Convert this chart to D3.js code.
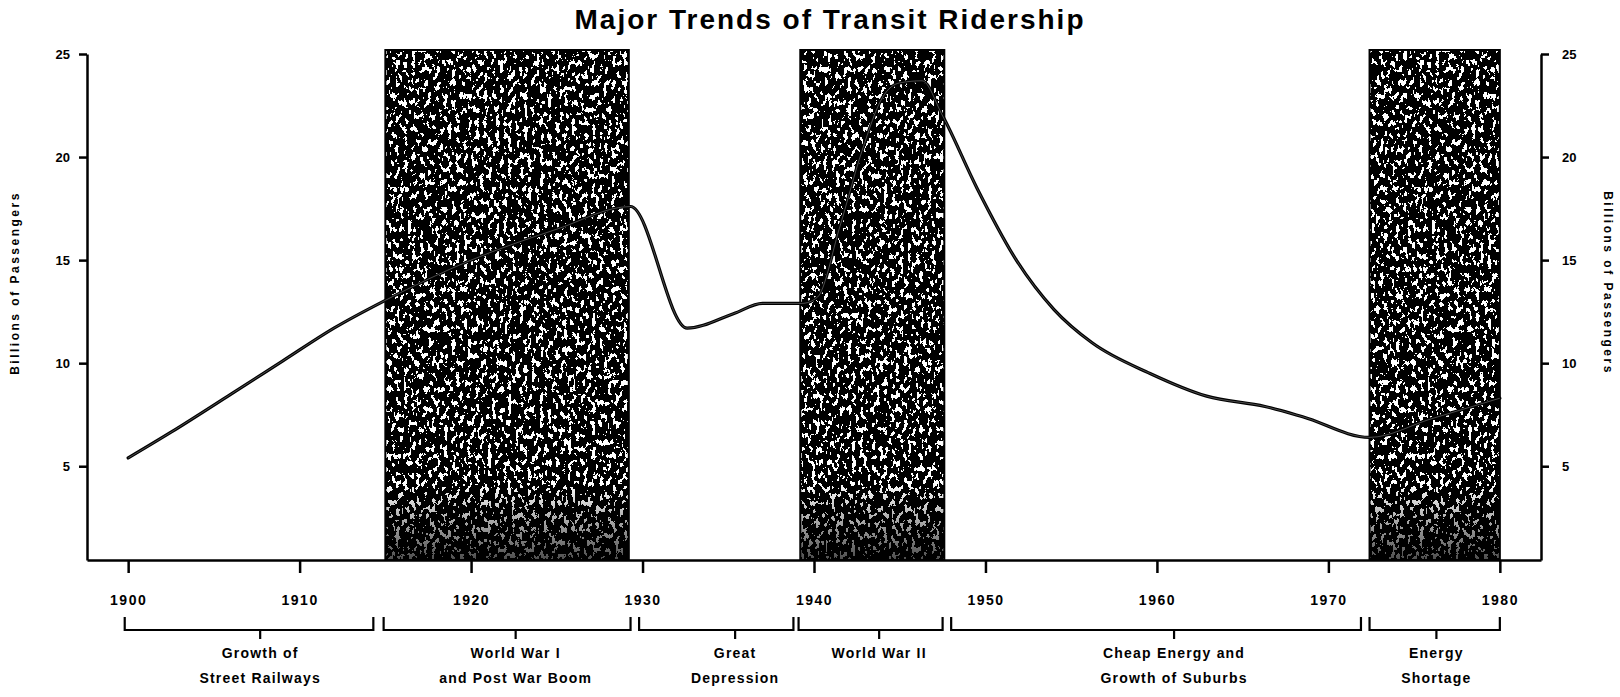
<!DOCTYPE html>
<html>
<head>
<meta charset="utf-8">
<script src="https://cdn.jsdelivr.net/npm/d3@7"></script>
<style>
  html, body { margin: 0; padding: 0; background: #fff; }
  svg { display: block; }
  text { font-family: "Liberation Sans", Arial, sans-serif; font-weight: bold; fill: #000; }
</style>
</head>
<body>
<svg id="chart" width="1620" height="697"></svg>
<script>
// ---------------- data ----------------
const title = "Major Trends of Transit Ridership";
const yTitle = "Billions of Passengers";
const years = [1900, 1902.5, 1906, 1909, 1912, 1915, 1920, 1925, 1929.3, 1932.6, 1935.3, 1937, 1939.3,
               1940.2, 1941.5, 1942.8, 1944, 1945, 1946.3, 1947.5, 1949.5, 1951.8, 1954, 1956.2,
               1959.6, 1962.9, 1966.3, 1968.5, 1972.4, 1976, 1980];
const riders = [5.4, 6.65, 8.5, 10.1, 11.7, 13.05, 15.0, 16.5, 17.6, 11.7, 12.4, 12.9, 12.9,
                13.2, 16.6, 20.3, 22.9, 23.6, 23.7, 22.0, 18.5, 15.0, 12.6, 11.0,
                9.5, 8.4, 7.9, 7.4, 6.4, 7.3, 8.3];
const xTicks = [1900, 1910, 1920, 1930, 1940, 1950, 1960, 1970, 1980];
const yTicks = [5, 10, 15, 20, 25];
const bandStart = [1915, 1939.2, 1972.4];
const bandEnd = [1929.2, 1947.6, 1980];
const periodStart = [1899.8, 1914.9, 1929.8, 1939.1, 1948.0, 1972.4];
const periodEnd = [1914.3, 1929.3, 1938.8, 1947.5, 1971.9, 1980];
const periodCenter = [1907.7, 1922.6, 1935.4, 1943.8, 1961.0, 1976.3];
const periodLine1 = ["Growth of", "World War I", "Great", "World War II", "Cheap Energy and", "Energy"];
const periodLine2 = ["Street Railways", "and Post War Boom", "Depression", "", "Growth of Suburbs", "Shortage"];

// ---------------- layout ----------------
const svg = d3.select("#chart");
const x = d3.scaleLinear().domain([1897.6, 1982.4]).range([87, 1541]);
const y = d3.scaleLinear().domain([0.45, 25]).range([560, 54]);
const bandTop = 50;

const defs = svg.append("defs");
// grain filter for the shaded periods
const f = defs.append("filter").attr("id", "grain")
  .attr("x", 0).attr("y", 0).attr("width", 1).attr("height", 1);
f.append("feTurbulence").attr("type", "fractalNoise")
  .attr("baseFrequency", "0.25 0.15").attr("numOctaves", 3).attr("seed", 11).attr("result", "noise");
f.append("feColorMatrix").attr("in", "noise").attr("type", "matrix")
  .attr("values", "0 0 0 0 1  0 0 0 0 1  0 0 0 0 1  1.6 0 0 0 -0.3").attr("result", "wn");
const ct = f.append("feComponentTransfer").attr("in", "wn").attr("result", "speck");
ct.append("feFuncA").attr("type", "discrete").attr("tableValues", "0 0 0 0 0 0 0 0 0 0 0 0 0 1 1 1 1 1 1 1");
const mg = f.append("feMerge").attr("result", "merged");
mg.append("feMergeNode").attr("in", "SourceGraphic");
mg.append("feMergeNode").attr("in", "speck");
f.append("feComposite").attr("in", "merged").attr("in2", "SourceGraphic").attr("operator", "in");

// darker base of the bands
const grad = defs.append("linearGradient").attr("id", "baseDark")
  .attr("x1", 0).attr("y1", 0).attr("x2", 0).attr("y2", 1);
grad.append("stop").attr("offset", "0.85").attr("stop-color", "#000").attr("stop-opacity", 0);
grad.append("stop").attr("offset", "1").attr("stop-color", "#000").attr("stop-opacity", 0.7);

// bands
const bands = bandStart.map((s, i) => ({ s, e: bandEnd[i] }));
const bandRect = sel => sel
  .attr("x", d => x(d.s)).attr("width", d => x(d.e) - x(d.s))
  .attr("y", bandTop).attr("height", y(0.45) - bandTop);
svg.append("g").selectAll("rect").data(bands).join("rect").call(bandRect)
  .attr("fill", "#000").attr("filter", "url(#grain)");
svg.append("g").selectAll("rect").data(bands).join("rect").call(bandRect)
  .attr("fill", "url(#baseDark)");
svg.append("g").selectAll("rect").data(bands).join("rect").call(bandRect)
  .attr("fill", "none").attr("stroke", "#000").attr("stroke-width", 2);

// axes
const axisStyle = g => {
  g.selectAll("path.domain").attr("stroke", "#000").attr("stroke-width", 2.5);
  g.selectAll(".tick line").attr("stroke", "#000").attr("stroke-width", 2.5);
  g.selectAll(".tick text").style("font-family", "'Liberation Sans', Arial, sans-serif")
    .style("font-weight", "bold").style("font-size", "13px").attr("fill", "#000");
};
svg.append("g").attr("transform", "translate(87,0)")
  .call(d3.axisLeft(y).tickValues(yTicks).tickSizeInner(8).tickSizeOuter(0).tickPadding(9))
  .call(axisStyle);
svg.append("g").attr("transform", "translate(1541,0)")
  .call(d3.axisRight(y).tickValues(yTicks).tickSizeInner(8).tickSizeOuter(0).tickPadding(13))
  .call(axisStyle);
svg.append("g").attr("transform", "translate(0,560)")
  .call(d3.axisBottom(x).tickValues(xTicks).tickFormat(d3.format("d")).tickSizeInner(13).tickSizeOuter(0).tickPadding(22))
  .call(axisStyle)
  .call(g => g.selectAll(".tick text").style("font-size", "14px").style("letter-spacing", "1.5px"));

// ridership line
const line = d3.line().x((d, i) => x(years[i])).y(d => y(d)).curve(d3.curveMonotoneX);
svg.append("path").datum(riders).attr("d", line)
  .attr("fill", "none").attr("stroke", "#000").attr("stroke-width", 3.2)
  .attr("stroke-linejoin", "round").attr("stroke-linecap", "round");
svg.append("path").datum(riders).attr("d", line)
  .attr("fill", "none").attr("stroke", "#fff").attr("stroke-width", 0.6).attr("stroke-opacity", 0.5);

// period brackets
const periods = periodStart.map((s, i) => ({ s, e: periodEnd[i], c: periodCenter[i], l1: periodLine1[i], l2: periodLine2[i] }));
const pg = svg.append("g").selectAll("g").data(periods).join("g");
pg.append("path")
  .attr("d", d => `M${x(d.s)},617 V630 H${x(d.e)} V617 M${x(d.c)},630 V639`)
  .attr("fill", "none").attr("stroke", "#000").attr("stroke-width", 2.2);
pg.append("text").attr("x", d => x(d.c)).attr("y", 658).attr("text-anchor", "middle")
  .style("font-size", "14px").style("letter-spacing", "1.2px").text(d => d.l1);
pg.append("text").attr("x", d => x(d.c)).attr("y", 683).attr("text-anchor", "middle")
  .style("font-size", "14px").style("letter-spacing", "1.2px").text(d => d.l2);

// title
svg.append("text").attr("x", 830).attr("y", 29).attr("text-anchor", "middle")
  .style("font-size", "28px").style("letter-spacing", "2px").text(title);

// y titles
svg.append("text").attr("transform", "translate(19,283) rotate(-90)").attr("text-anchor", "middle")
  .style("font-size", "12px").style("letter-spacing", "2.5px").text(yTitle);
svg.append("text").attr("transform", "translate(1604,283) rotate(90)").attr("text-anchor", "middle")
  .style("font-size", "12px").style("letter-spacing", "2.5px").text(yTitle);
</script>
</body>
</html>
